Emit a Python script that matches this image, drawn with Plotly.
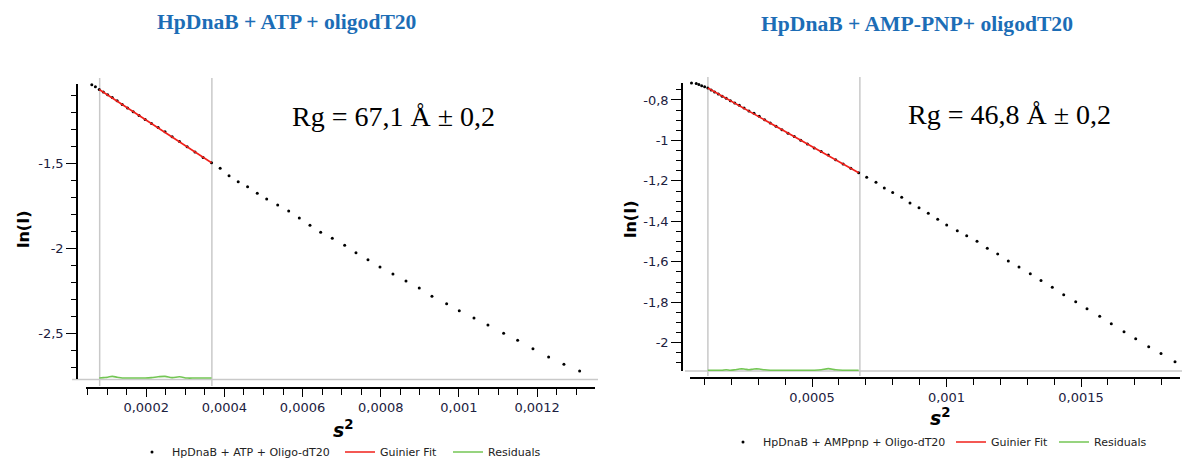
import plotly.graph_objects as go

W, H = 1182, 459

# ---------------- Left panel: HpDnaB + ATP + oligodT20 ----------------
s2_atp = [4.441e-5, 5.230e-5, 6.084e-5, 7.002e-5,
          7.985e-5, 9.033e-5, 1.0145e-4, 1.1321e-4, 1.2562e-4, 1.3867e-4, 1.5237e-4,
          1.6672e-4, 1.8171e-4, 1.9735e-4, 2.1363e-4, 2.3055e-4, 2.4813e-4, 2.6634e-4,
          2.8520e-4, 3.0471e-4, 3.2486e-4, 3.4566e-4, 3.6711e-4,
          3.8919e-4, 4.1193e-4, 4.3530e-4, 4.5933e-4,
          4.841e-4, 5.082e-4, 5.363e-4, 5.645e-4, 5.916e-4, 6.189e-4, 6.463e-4, 6.760e-4,
          7.077e-4, 7.366e-4, 7.673e-4, 7.980e-4, 8.312e-4, 8.645e-4, 8.985e-4, 9.309e-4,
          9.685e-4, 1.0008e-3, 1.0384e-3, 1.0742e-3, 1.1143e-3, 1.1501e-3, 1.1893e-3,
          1.2294e-3, 1.2685e-3, 1.3087e-3]
lnI_atp = [-1.036, -1.030, -1.040, -1.052,
           -1.067, -1.082, -1.098, -1.114, -1.134, -1.156, -1.176,
           -1.198, -1.220, -1.244, -1.267, -1.291, -1.316, -1.346,
           -1.373, -1.405, -1.435, -1.467, -1.499,
           -1.531, -1.575, -1.610, -1.639,
           -1.678, -1.712, -1.747, -1.782, -1.824, -1.866, -1.908, -1.943,
           -1.984, -2.028, -2.069, -2.112, -2.153, -2.194, -2.235, -2.284,
           -2.328, -2.369, -2.412, -2.453, -2.502, -2.543, -2.592,
           -2.641, -2.684, -2.724]
fit_s2_atp = [7.985e-5, 3.6711e-4]
fit_lnI_atp = [-1.0676, -1.4987]
fit_range_atp = [8.1e-5, 3.68e-4]
res_atp = [0.0, 0.001, 0.002, 0.004, 0.002, 0.0, 0.0, 0.0, 0.0, 0.0,
           0.001, 0.003, 0.004, 0.001, 0.003, 0.0, 0.0, 0.0, 0.0]
res_s2_atp = s2_atp[4:23]

# ---------------- Right panel: HpDnaB + AMP-PNP + oligodT20 ----------------
s2_amp = [4.409e-5, 5.196e-5, 6.047e-5, 6.962e-5, 7.942e-5, 8.987e-5, 1.0096e-4,
          1.1270e-4, 1.2508e-4, 1.3811e-4, 1.5178e-4, 1.6610e-4, 1.8106e-4, 1.9667e-4,
          2.1293e-4, 2.2983e-4, 2.4737e-4, 2.6556e-4, 2.8439e-4, 3.0387e-4, 3.2400e-4,
          3.4477e-4, 3.6619e-4, 3.8825e-4, 4.1096e-4, 4.3431e-4, 4.5830e-4, 4.8294e-4,
          5.0823e-4, 5.3416e-4, 5.6074e-4, 5.8797e-4, 6.1583e-4, 6.4435e-4, 6.7351e-4,
          7.033e-4, 7.379e-4, 7.688e-4, 8.000e-4, 8.335e-4, 8.643e-4, 8.978e-4, 9.323e-4,
          9.673e-4, 1.0007e-3, 1.0401e-3, 1.0751e-3, 1.1134e-3, 1.1517e-3, 1.1903e-3,
          1.2297e-3, 1.2695e-3, 1.3115e-3, 1.3513e-3, 1.3933e-3, 1.4357e-3, 1.4803e-3,
          1.5223e-3, 1.5695e-3, 1.6126e-3, 1.6599e-3, 1.7033e-3, 1.7517e-3, 1.7974e-3,
          1.8494e-3]
lnI_amp = [-0.726, -0.716, -0.713, -0.718, -0.724, -0.729, -0.735,
           -0.741, -0.750, -0.760, -0.770, -0.781, -0.791, -0.804,
           -0.815, -0.826, -0.839, -0.854, -0.866, -0.881, -0.898,
           -0.914, -0.930, -0.947, -0.964, -0.981, -0.999, -1.018,
           -1.037, -1.055, -1.072, -1.095, -1.117, -1.138, -1.160,
           -1.182, -1.207, -1.235, -1.258, -1.281, -1.309, -1.333, -1.360,
           -1.390, -1.418, -1.446, -1.471, -1.499, -1.533, -1.561,
           -1.596, -1.626, -1.659, -1.693, -1.726, -1.763, -1.797,
           -1.832, -1.869, -1.906, -1.946, -1.980, -2.020, -2.054,
           -2.094]
fit_s2_amp = [1.1270e-4, 6.7351e-4]
fit_lnI_amp = [-0.741, -1.160]
fit_range_amp = [1.13e-4, 6.78e-4]
res_amp = [0.0, 0.0, 0.0, 0.0, 0.0, 0.001, 0.0, 0.001, 0.003, 0.003,
           0.001, 0.003, 0.003, 0.001, 0.0, 0.0, 0.0, 0.0, 0.0, 0.0,
           0.0, 0.0, 0.001, 0.004, 0.001, 0.0, 0.0, 0.0]
res_s2_amp = s2_amp[7:35]

# tick labels
xt_atp = [0.0002, 0.0004, 0.0006, 0.0008, 0.001, 0.0012]
xtl_atp = ["0,0002", "0,0004", "0,0006", "0,0008", "0,001", "0,0012"]
yt_atp = [-1.5, -2, -2.5]
ytl_atp = ["-1,5", "-2", "-2,5"]
xt_amp = [0.0005, 0.001, 0.0015]
xtl_amp = ["0,0005", "0,001", "0,0015"]
yt_amp = [-0.8, -1, -1.2, -1.4, -1.6, -1.8, -2]
ytl_amp = ["-0,8", "-1", "-1,2", "-1,4", "-1,6", "-1,8", "-2"]

titles = ["HpDnaB + ATP + oligodT20", "HpDnaB + AMP-PNP+ oligodT20"]
rg_texts = ["Rg = 67,1 Å ± 0,2", "Rg = 46,8 Å ± 0,2"]
legend_names = [["HpDnaB + ATP + Oligo-dT20", "Guinier Fit", "Residuals"],
                ["HpDnaB + AMPpnp + Oligo-dT20", "Guinier Fit", "Residuals"]]

RED = "#f0201a"
GREEN = "#74c655"
GRAY = "#c9c9c9"
TICKC = "#1c2140"


def px(x):
    return x / W


def py(y):
    return 1 - y / H


fig = go.Figure()

# Left traces
fig.add_trace(go.Scatter(x=s2_atp, y=lnI_atp, mode="markers", name=legend_names[0][0],
                         marker=dict(color="black", size=3), xaxis="x", yaxis="y",
                         cliponaxis=False, legend="legend"))
fig.add_trace(go.Scatter(x=fit_s2_atp, y=fit_lnI_atp, mode="lines", name=legend_names[0][1],
                         line=dict(color=RED, width=1.6), xaxis="x", yaxis="y", legend="legend2"))
fig.add_trace(go.Scatter(x=res_s2_atp, y=res_atp, mode="lines", name=legend_names[0][2],
                         line=dict(color=GREEN, width=1.6, shape="spline"), xaxis="x", yaxis="y3",
                         cliponaxis=False, legend="legend3"))
# Right traces
fig.add_trace(go.Scatter(x=s2_amp, y=lnI_amp, mode="markers", name=legend_names[1][0],
                         marker=dict(color="black", size=3), xaxis="x2", yaxis="y2",
                         cliponaxis=False, legend="legend4"))
fig.add_trace(go.Scatter(x=fit_s2_amp, y=fit_lnI_amp, mode="lines", name=legend_names[1][1],
                         line=dict(color=RED, width=1.6), xaxis="x2", yaxis="y2", legend="legend5"))
fig.add_trace(go.Scatter(x=res_s2_amp, y=res_amp, mode="lines", name=legend_names[1][2],
                         line=dict(color=GREEN, width=1.6, shape="spline"), xaxis="x2", yaxis="y4",
                         cliponaxis=False, legend="legend6"))

axis_common = dict(showgrid=False, zeroline=False, showline=True, linecolor="black",
                   linewidth=1.5, ticks="outside", tickcolor="black", tickwidth=1,
                   tickfont=dict(family="DejaVu Sans", size=13, color=TICKC))


def leg(x, y):
    return dict(orientation="h", x=px(x), y=py(y), xanchor="left", yanchor="middle",
                font=dict(family="DejaVu Sans", size=11, color="#222222"),
                bgcolor="rgba(0,0,0,0)", itemwidth=30)


fig.update_layout(
    width=W, height=H, margin=dict(l=0, r=0, t=0, b=0, autoexpand=False),
    paper_bgcolor="white", plot_bgcolor="white",
    xaxis=dict(domain=[px(86), px(595)], range=[4.6e-5, 1.348e-3], anchor="free",
               position=py(388), tickmode="array", tickvals=xt_atp, ticktext=xtl_atp,
               ticklen=8, minor=dict(dtick=5e-5, tick0=0, ticklen=6, ticks="outside",
                                      tickcolor="black", showgrid=False), **axis_common),
    yaxis=dict(domain=[py(379), py(84)], range=[-2.7706, -1.0353], anchor="free",
               position=px(77), tickmode="array", tickvals=yt_atp, ticktext=ytl_atp,
               ticklen=10, minor=dict(dtick=0.1, tick0=0, ticklen=5, ticks="outside",
                                      tickcolor="black", showgrid=False), **axis_common),
    yaxis3=dict(domain=[py(379), py(84)], range=[-0.0025, 0.735], overlaying="y",
                anchor="x", visible=False),
    xaxis2=dict(domain=[px(690), px(1180)], range=[4.65e-5, 1.868e-3], anchor="free",
                position=py(378), tickmode="array", tickvals=xt_amp, ticktext=xtl_amp,
                ticklen=8, minor=dict(dtick=1e-4, tick0=0, ticklen=6, ticks="outside",
                                       tickcolor="black", showgrid=False), **axis_common),
    yaxis2=dict(domain=[py(371), py(83)], range=[-2.140, -0.716], anchor="free",
                position=px(682), tickmode="array", tickvals=yt_amp, ticktext=ytl_amp,
                ticklen=10, minor=dict(dtick=0.05, tick0=0, ticklen=5, ticks="outside",
                                       tickcolor="black", showgrid=False), **axis_common),
    yaxis4=dict(domain=[py(371), py(83)], range=[-0.002, 0.72], overlaying="y2",
                anchor="x2", visible=False),
    legend=leg(132, 452), legend2=leg(340, 452), legend3=leg(448, 452),
    legend4=leg(723, 442), legend5=leg(951, 442), legend6=leg(1054, 442),
    showlegend=True,
)

# fit-range vertical markers
for xv in fit_range_atp:
    fig.add_shape(type="line", xref="x", yref="paper", x0=xv, x1=xv, y0=py(386), y1=py(78),
                  line=dict(color=GRAY, width=1.5), layer="below")
for xv in fit_range_amp:
    fig.add_shape(type="line", xref="x2", yref="paper", x0=xv, x1=xv, y0=py(376), y1=py(77),
                  line=dict(color=GRAY, width=1.5), layer="below")
# bottom gray baselines
fig.add_shape(type="line", xref="paper", yref="paper", x0=px(72), x1=px(598), y0=py(379.5),
              y1=py(379.5), line=dict(color=GRAY, width=1.5), layer="below")
fig.add_shape(type="line", xref="paper", yref="paper", x0=px(685), x1=px(1182), y0=py(371),
              y1=py(371), line=dict(color=GRAY, width=1.5), layer="below")


def label(text, x, y, font, angle=0):
    fig.add_annotation(xref="paper", yref="paper", showarrow=False, xanchor="center",
                       yanchor="middle", x=px(x), y=py(y), text=text, textangle=angle,
                       font=font)


title_font = dict(family="Liberation Serif", size=21.6, color="#1c6db6")
label("<b>" + titles[0] + "</b>", 286, 22, title_font)
label("<b>" + titles[1] + "</b>", 917, 24, title_font)
rg_font = dict(family="Liberation Serif", size=28, color="black")
label(rg_texts[0], 393, 117, rg_font)
label(rg_texts[1], 1009, 115, rg_font)
ln_font = dict(family="DejaVu Sans", size=16, color="black")
label("<b>ln(I)</b>", 24, 229, ln_font, -90)
label("<b>ln(I)</b>", 630, 220, ln_font, -90)
s_font = dict(family="DejaVu Sans", size=19, color="black")
label("<b><i>s</i><sup>2</sup></b>", 343, 429, s_font)
label("<b><i>s</i><sup>2</sup></b>", 940, 417, s_font)

fig.write_html("out.html", config={"displayModeBar": False},
               post_script="document.body.style.margin='0';")
